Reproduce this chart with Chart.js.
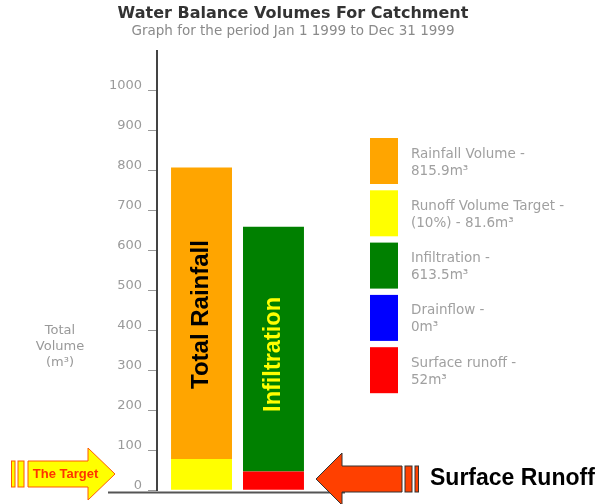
<!DOCTYPE html>
<html>
<head>
<meta charset="utf-8">
<script src="https://cdn.jsdelivr.net/npm/chart.js@4.4.1/dist/chart.umd.min.js"></script>
<style>
  html, body { margin: 0; padding: 0; background: #fff; }
  #wrap { width: 603px; height: 504px; }
</style>
</head>
<body>
<div id="wrap"><canvas id="grafico"></canvas></div>
<script>
// Dados (m³)
const categorias = ['1999'];
const metaEscoamento = [78];     // parte amarela da barra de chuva
const chuvaRestante  = [730];    // parte laranja (total ~808)
const escoamentoSup  = [47];     // vermelho
const drenagem       = [0];      // azul
const infiltracao    = [613];    // verde
const yTicks = [0, 100, 200, 300, 400, 500, 600, 700, 800, 900, 1000];

// Legenda (ordem da figura)
const legendaTitulos = ['Rainfall Volume -', 'Runoff Volume Target -', 'Infiltration -', 'Drainflow -', 'Surface runoff -'];
const legendaValores = ['815.9m³', '(10%) - 81.6m³', '613.5m³', '0m³', '52m³'];
const legendaCores   = ['#ffa500', '#ffff00', '#008000', '#0000ff', '#ff0000'];

const FONTE = "'DejaVu Sans', Verdana, sans-serif";
const ARIAL = "'Liberation Sans', Arial, sans-serif";

// Desenha títulos, legenda, setas e rótulos das barras
const extras = {
  id: 'extras',
  afterDraw(chart) {
    const ctx = chart.ctx;
    const y = chart.scales.y;
    ctx.save();

    // títulos
    ctx.textAlign = 'center';
    ctx.textBaseline = 'middle';
    ctx.fillStyle = '#333';
    ctx.font = `bold 16px ${FONTE}`;
    ctx.fillText('Water Balance Volumes For Catchment', 293, 14);
    ctx.fillStyle = '#8a8a8a';
    ctx.font = `13.5px ${FONTE}`;
    ctx.fillText('Graph for the period Jan 1 1999 to Dec 31 1999', 293, 31);

    // título do eixo y
    ctx.fillStyle = '#999';
    ctx.font = `13px ${FONTE}`;
    ['Total', 'Volume', '(m³)'].forEach((t, i) => ctx.fillText(t, 60, 331 + i * 16));

    // linha de base
    ctx.strokeStyle = '#555';
    ctx.lineWidth = 2;
    ctx.beginPath();
    ctx.moveTo(108, 492.5);
    ctx.lineTo(345, 492.5);
    ctx.stroke();

    // rótulos verticais nas barras
    const b1 = chart.getDatasetMeta(0).data[0];
    const b2 = chart.getDatasetMeta(2).data[0];
    ctx.save();
    ctx.translate(b1.x, y.getPixelForValue(440));
    ctx.rotate(-Math.PI / 2);
    ctx.fillStyle = '#000';
    ctx.font = `bold 24px ${ARIAL}`;
    ctx.fillText('Total Rainfall', 0, 0);
    ctx.restore();
    ctx.save();
    ctx.translate(b2.x, y.getPixelForValue(340));
    ctx.rotate(-Math.PI / 2);
    ctx.fillStyle = '#ffff00';
    ctx.font = `bold 23.5px ${ARIAL}`;
    ctx.fillText('Infiltration', 0, 0);
    ctx.restore();

    // legenda
    legendaTitulos.forEach((t, i) => {
      const top = 138 + i * 52.3;
      ctx.fillStyle = legendaCores[i];
      ctx.fillRect(370, top, 28, 46);
      ctx.fillStyle = '#a0a0a0';
      ctx.font = `13.5px ${FONTE}`;
      ctx.textAlign = 'left';
      ctx.fillText(t, 411, top + 16);
      ctx.fillText(legendaValores[i], 411, top + 33);
    });

    // seta "The Target"
    ctx.lineWidth = 1;
    ctx.strokeStyle = '#ff5a00';
    ctx.fillStyle = '#ffff00';
    [[11.5, 3.5], [18, 6]].forEach(([x, w]) => {
      ctx.fillRect(x, 461, w, 26);
      ctx.strokeRect(x, 461, w, 26);
    });
    ctx.beginPath();
    ctx.moveTo(28, 461); ctx.lineTo(88, 461); ctx.lineTo(88, 448);
    ctx.lineTo(115, 474); ctx.lineTo(88, 500); ctx.lineTo(88, 487);
    ctx.lineTo(28, 487); ctx.closePath();
    ctx.fill(); ctx.stroke();
    ctx.fillStyle = '#ff3300';
    ctx.font = `bold 13px ${ARIAL}`;
    ctx.textAlign = 'center';
    ctx.fillText('The Target', 65.5, 474);

    // seta "Surface Runoff"
    ctx.strokeStyle = '#333';
    ctx.fillStyle = '#ff4000';
    [[405, 7], [415, 3.5]].forEach(([x, w]) => {
      ctx.fillRect(x, 466, w, 26);
      ctx.strokeRect(x, 466, w, 26);
    });
    ctx.beginPath();
    ctx.moveTo(402, 466); ctx.lineTo(342, 466); ctx.lineTo(342, 453);
    ctx.lineTo(316, 479); ctx.lineTo(342, 505); ctx.lineTo(342, 492);
    ctx.lineTo(402, 492); ctx.closePath();
    ctx.fill(); ctx.stroke();
    ctx.fillStyle = '#000';
    ctx.font = `bold 23px ${ARIAL}`;
    ctx.textAlign = 'left';
    ctx.fillText('Surface Runoff', 430, 479);

    ctx.restore();
  }
};

new Chart(document.getElementById('grafico'), {
  type: 'bar',
  data: {
    labels: categorias,
    datasets: [
      { label: 'Runoff Volume Target', data: metaEscoamento, backgroundColor: '#ffff00', stack: 'chuva' },
      { label: 'Rainfall Volume', data: chuvaRestante, backgroundColor: '#ffa500', stack: 'chuva' },
      { label: 'Surface runoff', data: escoamentoSup, backgroundColor: '#ff0000', stack: 'infil' },
      { label: 'Drainflow', data: drenagem, backgroundColor: '#0000ff', stack: 'infil' },
      { label: 'Infiltration', data: infiltracao, backgroundColor: '#008000', stack: 'infil' }
    ]
  },
  options: {
    responsive: true,
    maintainAspectRatio: false,
    animation: false,
    barPercentage: 0.847,
    categoryPercentage: 0.894,
    layout: { padding: { left: 0, right: 285, top: 51, bottom: 13 } },
    plugins: { legend: { display: false }, title: { display: false }, tooltip: { enabled: false } },
    scales: {
      x: { stacked: true, display: false },
      y: {
        stacked: true,
        min: 0,
        max: 1100,
        afterFit: (s) => { s.width = 157; },
        afterBuildTicks: (s) => { s.ticks = yTicks.map(v => ({ value: v })); },
        border: { display: true, color: '#444', width: 2 },
        grid: { display: true, drawOnChartArea: false, drawTicks: true, tickLength: 9, tickColor: '#999', tickWidth: 1 },
        ticks: {
          color: '#9a9a9a',
          font: { family: FONTE, size: 13 },
          padding: 6,
          labelOffset: -5,
          callback: (v) => String(v)
        }
      }
    }
  },
  plugins: [extras]
});
</script>
</body>
</html>
